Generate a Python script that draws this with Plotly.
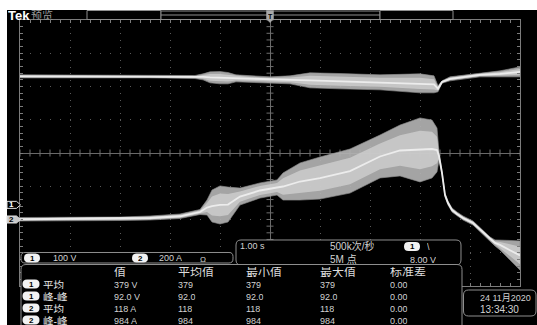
import numpy as np
import plotly.graph_objects as go

W, H = 537, 325
PLOT_L, PLOT_R, PLOT_T, PLOT_B = 20, 520, 20, 286
X_DIVS, Y_DIVS = 10, 8

# Acquisition / vertical settings
SEC_PER_DIV = 1.00
CH1_VOLTS_PER_DIV = 100.0
CH2_AMPS_PER_DIV = 200.0
CH1_POSITION = -1.56   # divisions
CH2_POSITION = -2.0    # divisions

# Channel 1 (voltage) envelope
ch1_time_s = [-5.0, -2.4, -1.5, -1.34, -1.2, -1.0, -0.84, -0.68, -0.4, 0.0, 0.4,
              0.8, 1.4, 2.2, 3.0, 3.28, 3.36, 3.44, 3.6, 4.2, 4.6, 5.0]
ch1_max_v = [391, 391, 389, 394, 400, 401, 398, 391, 388, 385, 388,
             397, 395, 391, 394, 388, 358, 373, 385, 397, 403, 415]
ch1_min_v = [382, 382, 380, 376, 367, 364, 364, 370, 370, 367, 364,
             352, 349, 346, 337, 337, 340, 366, 373, 385, 385, 385]

# Channel 2 (current) envelope
ch2_time_s = [-5.0, -3.0, -2.4, -1.8, -1.4, -1.26, -1.16, -1.0, -0.84, -0.6, -0.2,
              0.14, 0.26, 0.6, 1.0, 1.6, 2.2, 2.6, 3.0, 3.24, 3.34, 3.38, 3.44,
              3.5, 3.56, 3.64, 3.74, 3.86, 4.06, 4.26, 4.4, 4.5, 4.6, 4.8, 5.0]
ch2_max_a = [12, 15, 21, 33, 60, 117, 177, 202, 195, 189, 220,
             238, 280, 340, 376, 424, 508, 568, 611, 598, 550, 406, 292,
             159, 111, 69, 45, 21, -9, -63, -105, -123, -123, -126, -129]
ch2_min_a = [-9, -6, -3, 6, 30, 27, -15, -27, -15, 87, 129,
             147, 117, 117, 123, 159, 250, 262, 226, 250, 286, 358, 268,
             135, 87, 45, 21, -3, -33, -87, -129, -159, -183, -244, -304]

# Measurement readout
meas_channel = ["1", "1", "2", "2"]
meas_name = ["平均", "峰-峰", "平均", "峰-峰"]
meas_value = ["379 V", "92.0 V", "118 A", "984 A"]
meas_mean = ["379", "92.0", "118", "984"]
meas_min = ["379", "92.0", "118", "984"]
meas_max = ["379", "92.0", "118", "984"]
meas_std = ["0.00", "0.00", "0.00", "0.00"]
meas_headers = ["值", "平均值", "最小值", "最大值", "标准差"]

LATIN = "Liberation Sans, Arial, Noto Sans CJK SC"
CJK = "Noto Sans CJK SC, Liberation Sans"
TXT = "#d2d2d2"
EDGE = "#8e8e8e"


def px(x):
    return x / W


def py(y):
    return 1 - y / H


def pt(x, y):
    return f"{px(x):.5f},{py(y):.5f}"


def rrect(x0, y0, x1, y1, r):
    return (f"M {pt(x0 + r, y0)} L {pt(x1 - r, y0)} Q {pt(x1, y0)} {pt(x1, y0 + r)} "
            f"L {pt(x1, y1 - r)} Q {pt(x1, y1)} {pt(x1 - r, y1)} L {pt(x0 + r, y1)} "
            f"Q {pt(x0, y1)} {pt(x0, y1 - r)} L {pt(x0, y0 + r)} Q {pt(x0, y0)} {pt(x0 + r, y0)} Z")


def poly(points):
    return "M " + " L ".join(pt(x, y) for x, y in points) + " Z"


shapes = []
annotations = []


def add_shape(path, fill="black", line=EDGE, width=1, layer="above"):
    shapes.append(dict(type="path", path=path, xref="paper", yref="paper",
                       fillcolor=fill, line=dict(color=line, width=width), layer=layer))


def label(x, y, text, size=10, color=TXT, family=LATIN, anchor="left", bold=False, box_h=None):
    if bold:
        text = f"<b>{text}</b>"
    ann = dict(x=px(x), y=py(y), xref="paper", yref="paper", text=text,
               showarrow=False, xanchor=anchor, yanchor="middle", borderpad=0,
               font=dict(size=size, color=color, family=family))
    if box_h is not None:
        ann["height"] = box_h
    annotations.append(ann)


def pill(cx, cy, text, w=16, h=9):
    add_shape(rrect(cx - w / 2, cy - h / 2, cx + w / 2, cy + h / 2, h / 2),
              fill="#f2f2f2", line="#f2f2f2", width=0)
    label(cx, cy, text, size=8, color="black", anchor="center", bold=True, box_h=8)


# Black screen area inside the white frame
shapes.append(dict(type="rect", xref="paper", yref="paper", x0=px(7), x1=1, y0=0, y1=py(10),
                   fillcolor="black", line=dict(width=0), layer="below"))

fig = go.Figure()

# Tick marks along the centre crosshair
cross_x = np.arange(-X_DIVS / 2, X_DIVS / 2 + 1e-9, 0.2)
cross_y = np.arange(-Y_DIVS / 2, Y_DIVS / 2 + 1e-9, 0.2)
fig.add_trace(go.Scatter(x=cross_x, y=np.zeros_like(cross_x), mode="markers", hoverinfo="skip",
                         marker=dict(symbol="line-ns", size=5, line=dict(color="#6e6e6e", width=1))))
fig.add_trace(go.Scatter(x=np.zeros_like(cross_y), y=cross_y, mode="markers", hoverinfo="skip",
                         marker=dict(symbol="line-ew", size=5, line=dict(color="#6e6e6e", width=1))))


def add_channel(time_s, vmax, vmin, scale, pos):
    t = np.asarray(time_s) / SEC_PER_DIV
    hi = np.asarray(vmax, dtype=float) / scale + pos
    lo = np.asarray(vmin, dtype=float) / scale + pos
    mid = (hi + lo) / 2
    half = (hi - lo) / 2
    # outer envelope
    fig.add_trace(go.Scatter(x=np.concatenate([t, t[::-1]]), y=np.concatenate([hi, lo[::-1]]),
                             mode="lines", fill="toself", fillcolor="rgba(178,178,178,0.92)",
                             line=dict(width=0.8, color="rgba(140,140,140,0.8)"), hoverinfo="skip"))
    # brighter core of the envelope
    ihi, ilo = mid + 0.6 * half, mid - 0.6 * half
    fig.add_trace(go.Scatter(x=np.concatenate([t, t[::-1]]), y=np.concatenate([ihi, ilo[::-1]]),
                             mode="lines", fill="toself", fillcolor="rgba(205,205,205,0.85)",
                             line=dict(width=0), hoverinfo="skip"))
    fig.add_trace(go.Scatter(x=t, y=mid, mode="lines", line=dict(color="#ececec", width=1.8),
                             hoverinfo="skip"))


add_channel(ch1_time_s, ch1_max_v, ch1_min_v, CH1_VOLTS_PER_DIV, CH1_POSITION)
add_channel(ch2_time_s, ch2_max_a, ch2_min_a, CH2_AMPS_PER_DIV, CH2_POSITION)

# ---- top status bar ----
label(7, 15, "Tek", size=13, color="white", bold=True, box_h=10)
label(30, 15, "预览", size=11, color="#9a9a9a", family=CJK, box_h=10)
shapes.append(dict(type="rect", xref="paper", yref="paper", x0=px(87), x1=px(161), y0=py(10.5), y1=py(19.5),
                   line=dict(color=EDGE, width=1), fillcolor="black", layer="above"))
shapes.append(dict(type="rect", xref="paper", yref="paper", x0=px(161), x1=px(380), y0=py(11), y1=py(19.5),
                   line=dict(color=EDGE, width=1), fillcolor="black", layer="above"))
shapes.append(dict(type="line", xref="paper", yref="paper", x0=px(161), x1=px(380), y0=py(15), y1=py(15),
                   line=dict(color=EDGE, width=1), layer="above"))
shapes.append(dict(type="rect", xref="paper", yref="paper", x0=px(380), x1=px(453), y0=py(10.5), y1=py(19.5),
                   line=dict(color=EDGE, width=1), fillcolor="black", layer="above"))
trig_x = PLOT_L + (PLOT_R - PLOT_L) / 2
add_shape(poly([(trig_x - 3.5, 10.5), (trig_x + 3.5, 10.5), (trig_x + 3.5, 19),
                (trig_x, 22.5), (trig_x - 3.5, 19)]), fill="#a8a8a8", line="#a8a8a8", width=0.5)
label(trig_x, 15.5, "T", size=7, color="black", anchor="center", bold=True, box_h=8)

# ---- channel ground markers on the left edge ----
div_px = (PLOT_B - PLOT_T) / Y_DIVS
for name, pos, filled in (("1", CH1_POSITION, False), ("2", CH2_POSITION, True)):
    yc = PLOT_T + (Y_DIVS / 2 - pos) * div_px
    add_shape(poly([(7, yc - 3.5), (16.5, yc - 3.5), (20.5, yc), (16.5, yc + 3.5), (7, yc + 3.5)]),
              fill="#c8c8c8" if filled else "black", line="#e0e0e0", width=1)
    label(11.5, yc, name, size=8, color="black" if filled else "white", anchor="center", bold=True, box_h=7)

# ---- timebase readout ----
add_shape(rrect(236, 240, 461, 265, 5))
label(239, 245.5, "1.00 s", size=9, box_h=9)
label(329, 246.5, "500k次/秒", size=10, family=LATIN, box_h=10)
label(329, 259, "5M 点", size=10, family=LATIN, box_h=10)
pill(412, 246.5, "1")
label(426, 246, "\\", size=9, box_h=9)
label(409, 259, "8.00 V", size=9, box_h=9)

# ---- vertical scale readout ----
add_shape(rrect(21, 252.5, 233, 263, 4))
pill(32, 258, "1")
label(52, 258, "100 V", size=9, box_h=8)
pill(140, 258, "2")
label(158, 258, "200 A", size=9, box_h=8)
label(199, 258.5, "Ω", size=8, box_h=8)

# ---- measurement table ----
add_shape(rrect(21, 264.5, 462, 340, 5))
col_x = [113, 177, 245, 319, 389]
for x, h in zip(col_x, meas_headers):
    label(x, 272, h, size=12, family=LATIN, color="#dcdcdc", box_h=10)
row_y = [284, 296, 308, 320]
for i, y in enumerate(row_y):
    pill(31, y, meas_channel[i], w=17)
    label(42, y, meas_name[i], size=10.5, family=LATIN, color="#e6e6e6", box_h=9)
    for x, v in zip(col_x, [meas_value[i], meas_mean[i], meas_min[i], meas_max[i], meas_std[i]]):
        label(x, y, v, size=9, box_h=9)

# ---- date / time ----
add_shape(rrect(463.5, 290, 536, 316, 5))
label(479, 297.5, "24 11月2020", size=9, family=LATIN, box_h=10)
label(479, 309, "13:34:30", size=10, box_h=10)

axis_common = dict(showticklabels=False, zeroline=True, zerolinecolor="#6a6a6a", zerolinewidth=1,
                   showline=True, linecolor="#7c7c7c", linewidth=1, mirror="allticks",
                   ticks="inside", ticklen=3, tickcolor="#7c7c7c", gridcolor="#5a5a5a",
                   dtick=1, tick0=0, fixedrange=True,
                   minor=dict(dtick=0.2, ticks="inside", ticklen=3, tickcolor="#7c7c7c", showgrid=False))

fig.update_layout(
    width=W, height=H,
    margin=dict(l=0, r=0, t=0, b=0),
    paper_bgcolor="white",
    plot_bgcolor="black",
    showlegend=False,
    xaxis=dict(domain=[px(PLOT_L), px(PLOT_R)], range=[-X_DIVS / 2, X_DIVS / 2],
               griddash="1px,5.65px", **axis_common),
    yaxis=dict(domain=[py(PLOT_B), py(PLOT_T)], range=[-Y_DIVS / 2, Y_DIVS / 2],
               griddash="1px,9px", **axis_common),
    shapes=shapes,
    annotations=annotations,
)

fig.write_html("out.html", config={"displayModeBar": False})
